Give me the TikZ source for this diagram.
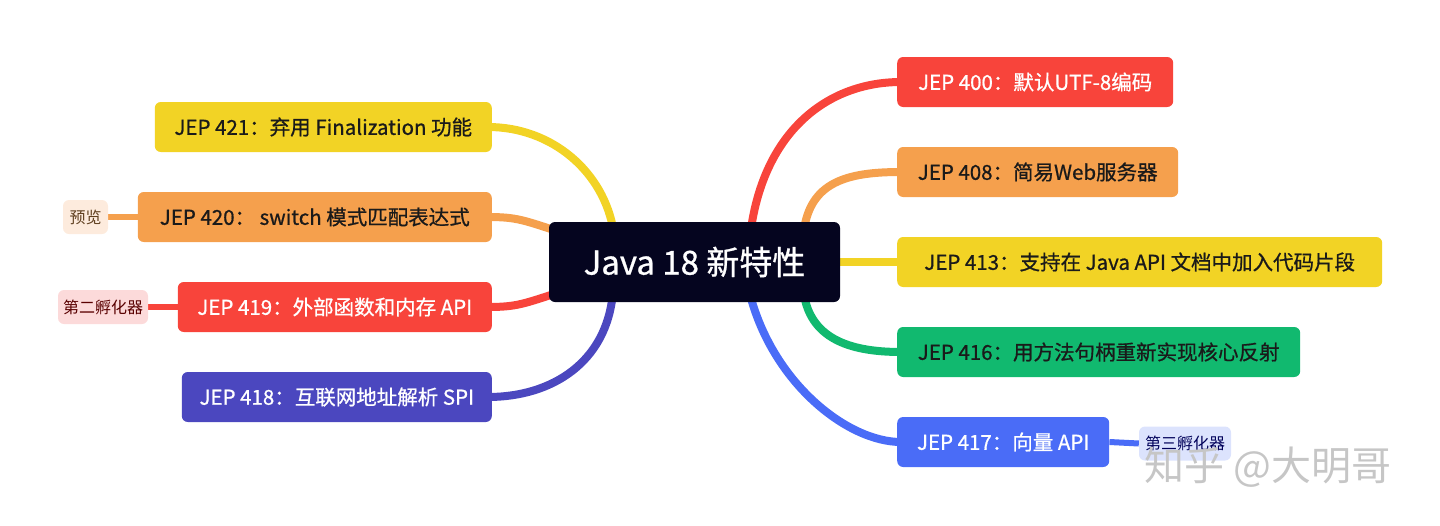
\documentclass[tikz,border=0pt]{standalone}
\usepackage{fontspec}
\setmainfont{Noto Sans CJK SC}[FakeBold=0.8]
\newfontfamily\plainfont{Noto Sans CJK SC}
\usetikzlibrary{backgrounds}

\definecolor{mapnavy}{HTML}{05051F}
\definecolor{mapyellow}{HTML}{F2D325}
\definecolor{maporange}{HTML}{F5A04D}
\definecolor{mapred}{HTML}{F8443B}
\definecolor{mapindigo}{HTML}{4B47BF}
\definecolor{mapgreen}{HTML}{11B96F}
\definecolor{mapblue}{HTML}{4A6CF7}
\definecolor{mapink}{HTML}{1A1A1A}
\definecolor{tagpeach}{HTML}{FDEBDD}
\definecolor{tagpink}{HTML}{FCDADA}
\definecolor{tagsky}{HTML}{DCE3FD}

\begin{document}
\begin{tikzpicture}[x=1pt, y=-1pt,
	jep/.style={rounded corners=6pt, minimum height=50pt, inner xsep=0pt, text=mapink, font=\fontsize{20.5}{20.5}\selectfont},
	tagbox/.style={rounded corners=6pt, minimum height=34pt, inner xsep=0pt, font=\plainfont\fontsize{16}{16}\selectfont},
	branch/.style={line width=8pt, shorten <=-10pt, shorten >=-4pt},
	twig/.style={line width=6pt}]
		\useasboundingbox (0,0) rectangle (1440,525);
		\node[fill=mapnavy, text=white, rounded corners=6pt, minimum width=291pt, minimum height=80pt, font=\fontsize{33}{33}\selectfont] (java) at (694.5,262) {Java 18 新特性};
		\node[jep, fill=mapyellow, minimum width=337pt, anchor=east] (jep421) at (492,127) {JEP 421：弃用 Finalization 功能};
		\node[jep, fill=maporange, minimum width=354pt, anchor=east] (jep420) at (492,217) {JEP 420： switch 模式匹配表达式};
		\node[jep, fill=mapred, text=white, minimum width=314pt, anchor=east] (jep419) at (492,307) {JEP 419：外部函数和内存 API};
		\node[jep, fill=mapindigo, text=white, minimum width=310pt, anchor=east] (jep418) at (492,397) {JEP 418：互联网地址解析 SPI};
		\node[jep, fill=mapred, text=white, minimum width=276pt, anchor=west] (jep400) at (897,82) {JEP 400：默认UTF-8编码};
		\node[jep, fill=maporange, minimum width=281pt, anchor=west] (jep408) at (897,172) {JEP 408：简易Web服务器};
		\node[jep, fill=mapyellow, minimum width=485pt, anchor=west] (jep413) at (897,262) {JEP 413：支持在 Java API 文档中加入代码片段};
		\node[jep, fill=mapgreen, minimum width=403pt, anchor=west] (jep416) at (897,352) {JEP 416：用方法句柄重新实现核心反射};
		\node[jep, fill=mapblue, text=white, minimum width=212pt, anchor=west] (jep417) at (897,442) {JEP 417：向量 API};
		\node[tagbox, fill=tagpeach, text=brown!50!black, minimum width=45pt] (preview) at (85.5,217) {预览};
		\node[tagbox, fill=tagpink, text=red!35!black, minimum width=90pt] (incub2) at (103,307) {第二孵化器};
		\node[tagbox, fill=tagsky, text=blue!35!black, minimum width=92pt] (incub3) at (1185,443.5) {第三孵化器};
		\node[text=gray!45, font=\plainfont\fontsize{40}{40}\selectfont] (mark) at (1268,467) {知乎 @大明哥};
		\begin{scope}[on background layer]
			\draw[branch, mapyellow] (java.154) .. controls +(-8,-50) and +(60,0) .. (jep421.east);
			\draw[branch, maporange] (java.167) .. controls +(-25,-8) and +(25,0) .. (jep420.east);
			\draw[branch, mapred] (java.193.5) .. controls +(-25,8) and +(25,0) .. (jep419.east);
			\draw[branch, mapindigo] (java.206) .. controls +(-5,60) and +(60,0) .. (jep418.east);
			\draw[branch, mapred] (java.35) .. controls +(12,-90) and +(-70,0) .. (jep400.west);
			\draw[branch, maporange] (java.20) .. controls +(5,-40) and +(-50,0) .. (jep408.west);
			\draw[branch, mapyellow] (java.east) -- (jep413.west);
			\draw[branch, mapgreen] (java.340) .. controls +(5,35) and +(-50,0) .. (jep416.west);
			\draw[branch, mapblue] (java.325) .. controls +(20,80) and +(-50,0) .. (jep417.west);
			\draw[twig, maporange] (jep420.west) -- (preview.east);
			\draw[twig, mapred] (jep419.west) -- (incub2.east);
			\draw[twig, mapblue] (jep417.east) -- (incub3.west);
		\end{scope}
	\end{tikzpicture}
\end{document}
